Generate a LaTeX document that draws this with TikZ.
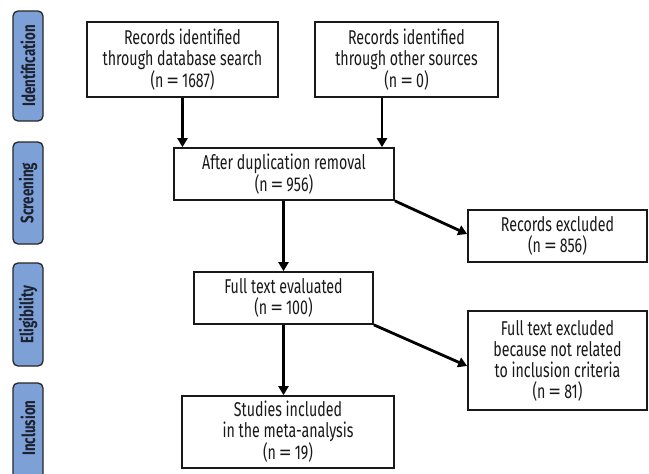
\documentclass[tikz,border=0pt]{standalone}
\usepackage{fontspec}
\setmainfont{Fira Sans}[FakeStretch=0.71]
\newfontfamily\labfont{Fira Sans}[FakeStretch=0.74]
\usetikzlibrary{arrows.meta}
\definecolor{labfill}{HTML}{7DA0D6}
\definecolor{labtext}{HTML}{1C2230}
\newcommand\nEq{\kern3pt\scalebox{1.8}[1]{=}\kern3pt}
\tikzset{
  box/.style={draw=black!90, line width=1.7pt, fill=white, align=center, inner sep=0pt,
    font=\fontsize{20}{21}\selectfont, text=black!90},
  lab/.style={draw=black!85, line width=1.3pt, fill=labfill, rounded corners=5pt,
    minimum width=30pt, inner sep=0pt},
  labtxt/.style={rotate=90, font=\labfont\fontsize{18}{20}\selectfont\bfseries, text=labtext},
  arr/.style={line width=2.8pt, -{Triangle[length=9pt,width=10pt]}}
}
\begin{document}
\begin{tikzpicture}[x=1pt,y=-1pt]
\useasboundingbox (0,0) rectangle (649,474);
% stage labels
\begin{scope}
\clip (0,0) rectangle (649,474);
\node[lab, minimum height=110pt] (l1) at (28,66) {};
\node[labtxt] at (l1) {Identification};
\node[lab, minimum height=102pt] (l2) at (28,193) {};
\node[labtxt] at (l2) {Screening};
\node[lab, minimum height=103pt] (l3) at (28,314.5) {};
\node[labtxt] at (l3) {Eligibility};
\node[lab, minimum height=100pt] (l4) at (28,433) {};
\node[labtxt] at (28,428) {Inclusion};
\end{scope}
% boxes
\node[box, minimum width=191pt, minimum height=75pt] (b1) at (182.5,59.5)
  {Records identified\\through database search\\(n\nEq 1687)};
\node[box, minimum width=183pt, minimum height=75pt] (b2) at (406.5,59.5)
  {Records identified\\through other sources\\(n\nEq 0)};
\node[box, minimum width=220pt, minimum height=52pt] (b3) at (284,174)
  {After duplication removal\\(n\nEq 956)};
\node[box, minimum width=179pt, minimum height=52pt] (b4) at (283.5,298)
  {Full text evaluated\\(n\nEq 100)};
\node[box, minimum width=212pt, minimum height=72pt] (b5) at (288,432)
  {Studies included\\in the meta-analysis\\(n\nEq 19)};
\node[box, minimum width=179pt, minimum height=52pt] (b6) at (557.5,236)
  {Records excluded\\(n\nEq 856)};
\node[box, minimum width=179pt, minimum height=99pt] (b7) at (557.5,360.5)
  {Full text excluded\\because not related\\to inclusion criteria\\(n\nEq 81)};
% arrows
\draw[arr] (b1.south) -- (b1.south |- b3.north);
\draw[arr] (b2.south -| 382,0) -- (382,0 |- b3.north);
\draw[arr] (b3.south -| b4.north) -- (b4.north);
\draw[arr] (b4.south) -- (b4.south |- b5.north);
\draw[arr] (b3.south east) -- (b6.west |- 0,234);
\draw[arr] (b4.south east) -- (b7.west |- 0,366);
\end{tikzpicture}
\end{document}
